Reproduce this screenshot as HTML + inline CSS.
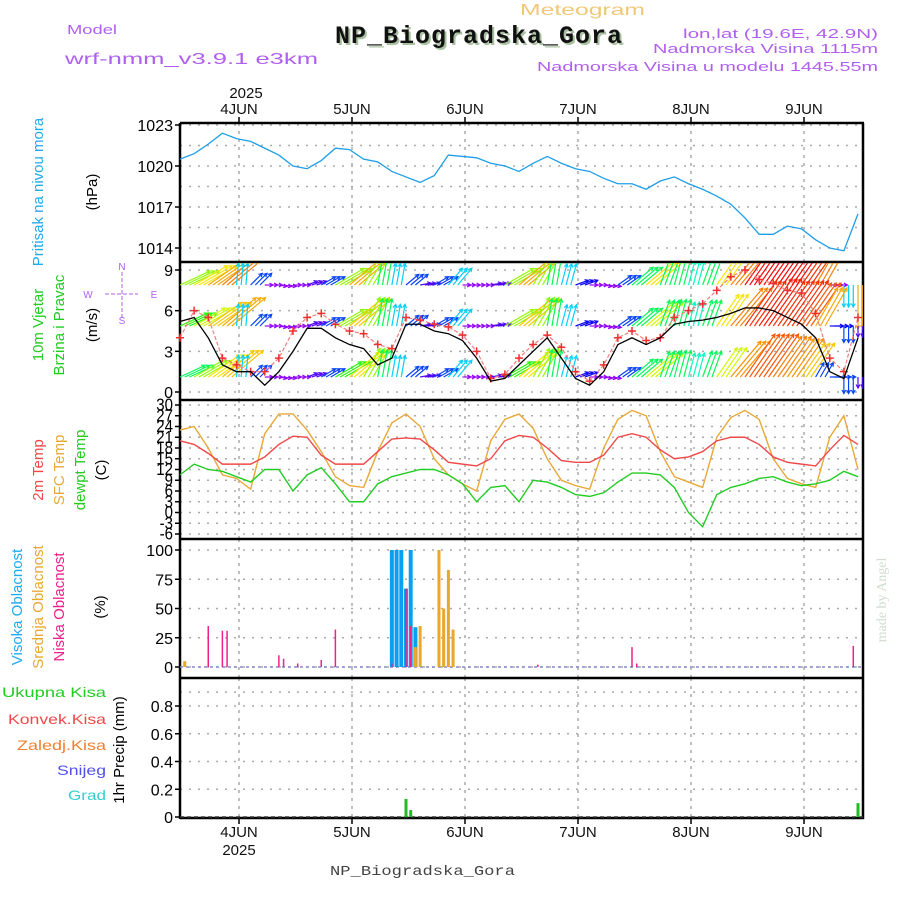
<!DOCTYPE html>
<html><head><meta charset="utf-8"><style>
html,body{margin:0;padding:0;background:#fff;}
svg{display:block;font-family:"Liberation Sans",sans-serif;}
</style></head><body>
<svg id="chart" width="900" height="900" viewBox="0 0 900 900" xmlns="http://www.w3.org/2000/svg">
<defs>
<clipPath id="clipWind"><rect x="180" y="263" width="683" height="137"/></clipPath>
</defs>
<text x="520" y="15" font-size="16" fill="#f0c878" textLength="125" lengthAdjust="spacingAndGlyphs">Meteogram</text>
<text x="67" y="34" font-size="13" fill="#b060f0" textLength="50" lengthAdjust="spacingAndGlyphs">Model</text>
<text x="65" y="64" font-size="16" fill="#b060f0" textLength="253" lengthAdjust="spacingAndGlyphs">wrf-nmm_v3.9.1 e3km</text>
<text x="481" y="45" text-anchor="middle" font-family="Liberation Mono, monospace" font-weight="bold" font-size="25" fill="#a8c0a0" letter-spacing="1">NP_Biogradska_Gora</text>
<text x="479" y="43" text-anchor="middle" font-family="Liberation Mono, monospace" font-weight="bold" font-size="25" fill="#111" letter-spacing="1">NP_Biogradska_Gora</text>
<text x="683" y="38" font-size="13" fill="#b060f0" textLength="195" lengthAdjust="spacingAndGlyphs">lon,lat (19.6E, 42.9N)</text>
<text x="653" y="53" font-size="13" fill="#b060f0" textLength="225" lengthAdjust="spacingAndGlyphs">Nadmorska Visina 1115m</text>
<text x="537" y="71" font-size="13" fill="#b060f0" textLength="341" lengthAdjust="spacingAndGlyphs">Nadmorska Visina u modelu 1445.55m</text>
<text x="330" y="875" font-family="Liberation Mono, monospace" font-size="14" fill="#444" textLength="185" lengthAdjust="spacingAndGlyphs">NP_Biogradska_Gora</text>
<text transform="translate(886,600) rotate(-90)" text-anchor="middle" font-family="Liberation Serif, serif" font-size="14" fill="#d0dcd0">made by Angel</text>
<g id="g"></g>
</svg>
<script>
const dayLabels = ["4JUN","5JUN","6JUN","7JUN","8JUN","9JUN"];
const pressure = [1020.5,1020.9,1021.6,1022.4,1022.0,1021.8,1021.3,1020.8,1020.0,1019.8,1020.4,1021.3,1021.2,1020.5,1020.3,1019.6,1019.2,1018.8,1019.3,1020.8,1020.7,1020.6,1020.2,1020.0,1019.6,1020.2,1020.7,1020.2,1019.8,1019.6,1019.1,1018.7,1018.7,1018.3,1018.9,1019.2,1018.7,1018.3,1017.8,1017.2,1016.2,1015.0,1015.0,1015.6,1015.4,1014.6,1014.0,1013.8,1016.5];
const windSpeed = [5.2,5.5,4,2,1.5,1.5,0.5,1.5,3,4.7,4.7,4,3.5,3.2,2,2.5,5,5,4.5,4.3,3.8,2.5,0.8,1,2,3,4,2.5,1,0.5,1.5,3.5,4,3.5,4,5,5.2,5.3,5.5,5.8,6.2,6.2,6,5.5,5,4,1.5,1,4];
const windGust = [4,6,5.5,2.5,2,1.5,1.5,2.5,4.5,5.5,5.8,5,4.5,4.3,3.5,3.2,5.5,5.3,5,4.8,4.2,3,1,1.3,2.5,3.5,4.2,3.3,1.5,0.8,2,4,4.5,3.8,4,5.5,6,6.5,7.5,8.5,9,8.3,8,7.5,7.3,5.8,2.5,1.5,5.5];
const windDir = [25,30,35,40,85,45,0,-10,0,20,30,30,40,60,80,80,40,10,30,50,0,0,10,30,40,60,80,75,20,0,-10,35,40,40,70,75,75,70,55,50,55,55,55,55,55,60,0,-90,-90];
const arrowTop = [6,7,8,9,4,3,1.5,1.5,1.5,2,3,6,8,6,5,4,3,2,3,4,1.5,1.5,2,6,8,6,5,4,2.5,1.5,1.5,3,5,7,5,5,4.5,5,7,9,11,11,11,11,10,9,1.5,4,8];
const arrowMid = [5.5,6.5,7.5,8,4,3,1.5,1.5,1.5,2,3,6,7.5,6,5,4,3,2,3,4,1.5,1.5,2,6,7.5,6,5,4,2.5,1.5,1.5,3,5,6.5,5,5,4.5,5,7,9,10,10.5,10,10,9.5,8,2.5,3,2];
const arrowBot = [5,6,7,7.5,4,3,1.5,1.5,1.5,2,3,5.5,7,6,5,4,3,2,3,4,1.5,1.5,2,5.5,7,6,5,4,2.5,1.5,1.5,3,5,6.5,5,5,4.5,5,6.5,8.5,9.5,9.5,9,8.5,7.5,3,3,3,2];
const temp2m = [20,19,16.5,13.5,13.5,13.5,15.5,19,21.3,21,16,13.5,13.5,13.5,17,20.5,20.8,20.5,17.5,14,13.5,13,15,20,21.5,21,18,14.5,14,14,16,21,22,21,17.5,15,15.5,17,20,21,21,19,15.5,14,13.5,13,17.5,21.5,19];
const tempSfc = [23,24,18,10.5,9.5,6.5,22,27.5,27.5,23,17,10,7.5,7,17,25,27.5,24,15,10.5,8,6,20,26,27.5,23.5,15,9,7.5,6.5,18,26,28.5,27,17,10,8.5,7,21,26.5,28.5,26,15,9.5,8,7,21,27,12];
const tempDew = [10.5,13.5,12,11.5,10,8.5,12,12,6,10.5,12.5,8,3,3,8,10,11,12,12,10.5,8,3,7,7.5,3,9,8.5,7,5,4.5,5.5,8.5,11,11,10.5,7,0,-4,5,7,8,9.5,10,8.5,7.5,8,9,11.5,10];
const pressTicks = [1023,1020,1017,1014];
const windTicks = [9,6,3,0];
const tempTicks = [30,27,24,21,18,15,12,9,6,3,0,-3,-6];
const cloudTicks = [100,75,50,25,0];
const precipTicks = [0.8,0.6,0.4,0.2,0];
const highHours = [45,46,47,48,49,50];
const highVals = [100,100,100,67,100,34];
const midHours = [1,50,51,55,56,57,58];
const midVals = [5,17,35,100,50,83,32];
const lowHours = [6,9,10,21,22,25,30,33,45,48,49,76,96,97,143];
const lowVals = [35,31,31,10,7,3,6,32,3,67,35,2,17,3,18];
const rainHours = [48,49,144];
const rainVals = [0.13,0.05,0.1];

const X0 = 180, X1 = 863;
const x = h => X0 + h * 113 / 24;
const yP = p => 125 + (1023 - p) * 41 / 3;
const yW = v => 392 - v * 122 / 9;
const yT = t => 405 + (30 - t) * 129 / 36;
const yC = c => 667 - c * 1.17;
const yR = r => 817 - r * 138.75;
const dayX = i => 239 + i * 113;

const NS = "http://www.w3.org/2000/svg";
const G = document.getElementById("g");
function mk(tag, attrs, parent) {
  const e = document.createElementNS(NS, tag);
  for (const k in attrs) e.setAttribute(k, attrs[k]);
  (parent || G).appendChild(e);
  return e;
}
function txt(s, attrs, parent) { const t = mk("text", attrs, parent); t.textContent = s; return t; }

const panels = [
  {top:123, bot:262, ticks:pressTicks, y:yP, grid:[1023,1021.5,1020,1018.5,1017,1015.5,1014], name:"pressure"},
  {top:262, bot:400, ticks:windTicks, y:yW, grid:[9,6,3,0], name:"wind"},
  {top:400, bot:539, ticks:tempTicks, y:yT, grid:tempTicks, name:"temperature"},
  {top:539, bot:678, ticks:cloudTicks, y:yC, grid:cloudTicks, name:"cloud"},
  {top:678, bot:818, ticks:precipTicks, y:yR, grid:[0.9,0.8,0.6,0.4,0.2,0], name:"precip"}
];
panels.forEach(p => {
  const g = mk("g", {});
  
  
  p.grid.forEach(v => {
    const yy = p.y(v);
    if (yy > p.top + 1 && yy < p.bot - 1) {
      const l = mk("line", {x1:X0, x2:X1, y1:yy, y2:yy, stroke:"#aaa", "stroke-width":1.5, "stroke-dasharray":"2,7"}, g);
      
      
    }
  });
  dayLabels.forEach((d, i) => {
    const l = mk("line", {x1:dayX(i), x2:dayX(i), y1:p.top, y2:p.bot, stroke:"#aaa", "stroke-width":1.5, "stroke-dasharray":"3,5"}, g);
    
    
  });
  const ax = mk("g", {});
  
  
  p.ticks.forEach(v => {
    const yy = p.y(v);
    mk("line", {x1:X0-5, x2:X0, y1:yy, y2:yy, stroke:"#000", "stroke-width":1.5}, ax);
    const isT = p.name === "temperature";
    const t = txt(String(v), {x:X0-7, y:yy + (isT?5:6), "text-anchor":"end", "font-size": isT?15:16, fill:"#000"}, ax);
    if (isT) t.setAttribute("transform", `translate(0,${yy}) scale(1,1.15) translate(0,${-yy})`);
    
    
  });
});
[123,262,400,539,678,818].forEach(yy => mk("line", {x1:X0, x2:X1+1, y1:yy, y2:yy, stroke:"#000", "stroke-width":2.5}));
mk("line", {x1:X0, x2:X0, y1:123, y2:819, stroke:"#000", "stroke-width":2.5});
mk("line", {x1:X1, x2:X1, y1:123, y2:819, stroke:"#000", "stroke-width":2.5});
dayLabels.forEach((d, i) => {
  mk("line", {x1:dayX(i), x2:dayX(i), y1:117, y2:123, stroke:"#000", "stroke-width":1.5});
  const t = txt(d, {x:dayX(i), y:114, "text-anchor":"middle", "font-size":15, fill:"#111"});
  
  
  const b = txt(d, {x:dayX(i), y:837, "text-anchor":"middle", "font-size":15, fill:"#111"});
  
  
  mk("line", {x1:dayX(i), x2:dayX(i), y1:818, y2:824, stroke:"#000", "stroke-width":1.5});
});
const ty = txt("2025", {x:246, y:98, "text-anchor":"middle", "font-size":15, fill:"#111"});


const by = txt("2025", {x:239, y:855, "text-anchor":"middle", "font-size":15, fill:"#111"});



const pl = mk("polyline", {points: pressure.map((v,i)=>x(i*3)+","+yP(v)).join(" "), fill:"none", stroke:"#1e9ee8", "stroke-width":1.3});



function hueFor(s) {
  const stops = [[1.5,275],[3,225],[4,190],[5,140],[6,85],[7,55],[8,40],[9,30],[10,10],[11,0]];
  if (s <= stops[0][0]) return stops[0][1];
  for (let i = 1; i < stops.length; i++) {
    if (s <= stops[i][0]) {
      const [a,ha] = stops[i-1], [b,hb] = stops[i];
      return ha + (hb-ha)*(s-a)/(b-a);
    }
  }
  return 0;
}
const wg = mk("g", {"clip-path":"url(#clipWind)"});


[[arrowTop,285],[arrowMid,326],[arrowBot,377]].forEach(([arr, base]) => {
  arr.forEach((s, i) => {
    const a = windDir[i] * Math.PI / 180, len = s * 5.5;
    const col = `hsl(${hueFor(s)},95%,50%)`;
    const grp = mk("g", {stroke:col, "stroke-width":1.2, fill:"none"}, wg);
    
    
    for (let k = 0; k < 3; k++) {
      const x1 = x(i*3) + k * 4.7, y1 = base, x2 = x1 + Math.cos(a)*len, y2 = y1 - Math.sin(a)*len;
      mk("line", {x1:x1, y1:y1, x2:x2, y2:y2}, grp);
      const ha = 0.5, hl = 4;
      mk("path", {d:`M${x2 - Math.cos(a-ha)*hl},${y2 + Math.sin(a-ha)*hl}L${x2},${y2}L${x2 - Math.cos(a+ha)*hl},${y2 + Math.sin(a+ha)*hl}`}, grp);
    }
  });
});
const gl = mk("polyline", {points: windGust.map((v,i)=>x(i*3)+","+yW(v)).join(" "), fill:"none", stroke:"#f08080", "stroke-width":1.2, "stroke-dasharray":"4,2"});


windGust.forEach((v,i) => {
  const cx = x(i*3), cy = yW(v);
  const p = mk("path", {d:`M${cx-4},${cy}H${cx+4}M${cx},${cy-4}V${cy+4}`, stroke:"#f03030", "stroke-width":1.5});
  
  
});
const sl = mk("polyline", {points: windSpeed.map((v,i)=>x(i*3)+","+yW(v)).join(" "), fill:"none", stroke:"#000", "stroke-width":1.3});



[[tempSfc,"#e8a838","sfc-temp-line"],[temp2m,"#f04848","2m-temp-line"],[tempDew,"#22cc22","dewpoint-line"]].forEach(([arr,c,n]) => {
  const l = mk("polyline", {points: arr.map((v,i)=>x(i*3)+","+yT(v)).join(" "), fill:"none", stroke:c, "stroke-width":1.4});
  
  
});

mk("line", {x1:X0, x2:X1, y1:667, y2:667, stroke:"#8888cc", "stroke-width":1.5, "stroke-dasharray":"3,3"});
[[highHours,highVals,"#0aa0f0",4,"high-cloud-bar"],[midHours,midVals,"#e8a828",3,"mid-cloud-bar"],[lowHours,lowVals,"#f0208a",1.5,"low-cloud-bar"]].forEach(([hs,vs,c,w,n]) => {
  hs.forEach((h,i) => {
    const b = mk("rect", {x:x(h)-w/2, y:yC(vs[i]), width:w, height:667-yC(vs[i]), fill:c});
    
    
  });
});

mk("line", {x1:X0, x2:X1, y1:817, y2:817, stroke:"#333", "stroke-width":1.5, "stroke-dasharray":"4,3"});
rainHours.forEach((h,i) => {
  const b = mk("rect", {x:x(h)-1.5, y:yR(rainVals[i]), width:3, height:817-yR(rainVals[i]), fill:"#22bb22"});
  
  
});

function vlab(s, xx, yy, c, n, fs) {
  const t = txt(s, {transform:`translate(${xx},${yy}) rotate(-90)`, "text-anchor":"middle", "font-size":fs||15, fill:c});
  
  
}
vlab("Pritisak na nivou mora", 43, 192, "#22aaee", "pressure-title");
vlab("(hPa)", 97, 192, "#000", "pressure-unit");
vlab("10m Vjetar", 43, 325, "#22cc22", "wind-title-1");
vlab("Brzina i Pravac", 64, 325, "#22cc22", "wind-title-2");
vlab("(m/s)", 97, 325, "#000", "wind-unit");
vlab("2m Temp", 43, 470, "#f04848", "temp-title-2m");
vlab("SFC Temp", 64, 470, "#e8a838", "temp-title-sfc");
vlab("dewpt Temp", 85, 470, "#22cc22", "temp-title-dew");
vlab("(C)", 106, 470, "#000", "temp-unit");
vlab("Visoka Oblacnost", 22, 607, "#22aaee", "cloud-title-high");
vlab("Srednja Oblacnost", 43, 607, "#e8a838", "cloud-title-mid");
vlab("Niska  Oblacnost", 64, 607, "#f0208a", "cloud-title-low");
vlab("(%)", 105, 607, "#000", "cloud-unit");
vlab("1hr Precip (mm)", 124, 750, "#000", "precip-unit");
[["Ukupna  Kisa","#22cc22",697,2,104],["Konvek.Kisa","#f04848",724,8,98],["Zaledj.Kisa","#f08030",750,17,89],["Snijeg","#5050f0",775,57,49],["Grad","#30d0d0",800,68,38]].forEach(([s,c,yy,xx,w]) => {
  const t = txt(s, {x:xx, y:yy, "font-size":14, fill:c, textLength:w, lengthAdjust:"spacingAndGlyphs"});
  
  
});
const cg = mk("g", {stroke:"#b060f0", "stroke-width":1, fill:"#b060f0"});


mk("line", {x1:105, x2:138, y1:294, y2:294, "stroke-dasharray":"4,2"}, cg);
mk("line", {x1:122, x2:122, y1:272, y2:318, "stroke-dasharray":"4,2"}, cg);
[["N",122,270],["S",122,324],["W",88,298],["E",154,298]].forEach(([s,xx,yy]) => txt(s, {x:xx, y:yy, "font-size":10, "text-anchor":"middle", stroke:"none"}, cg));
</script>
</body></html>
